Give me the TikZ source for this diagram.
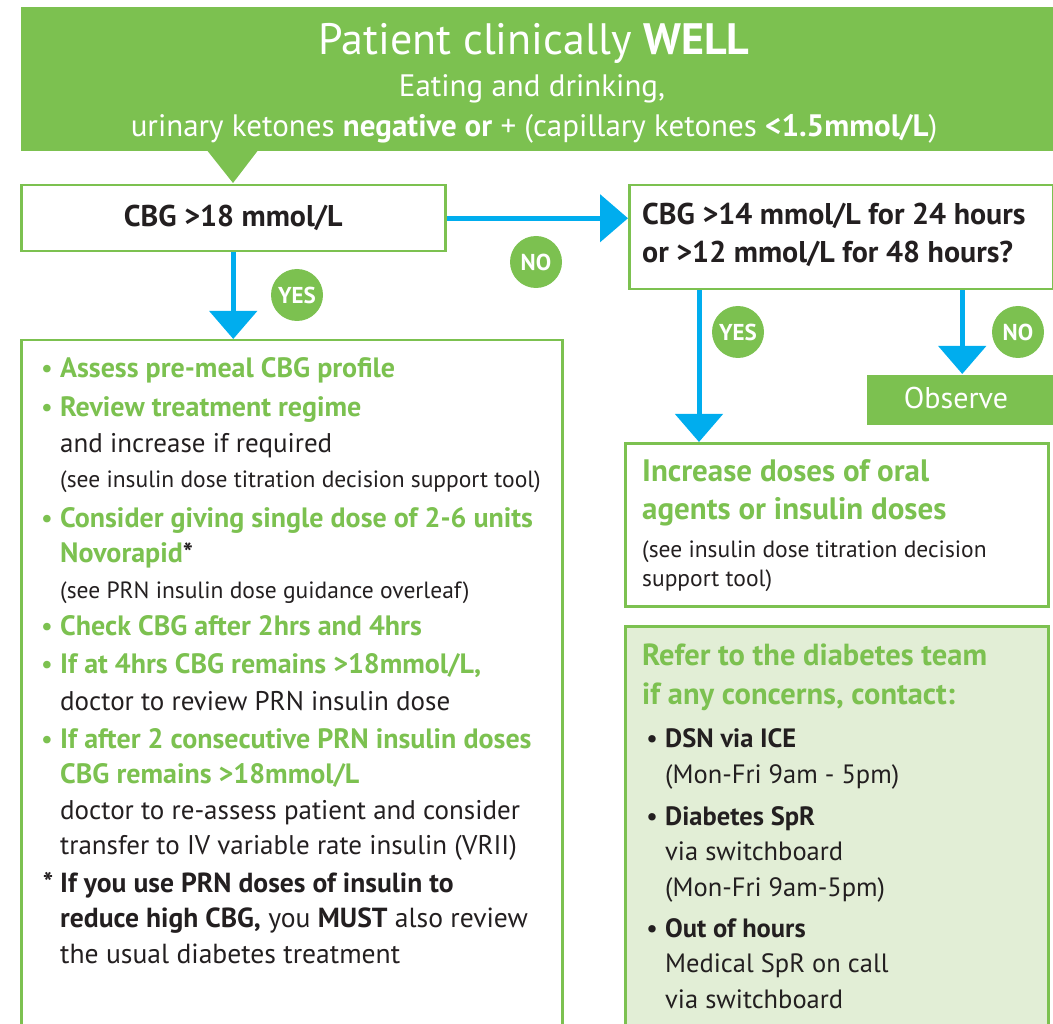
\documentclass[tikz,border=0pt]{standalone}
\usepackage{fontspec}
\setmainfont{PT Sans}
\usetikzlibrary{arrows.meta}

\definecolor{wellgreen}{RGB}{124,193,80}
\definecolor{palegreen}{RGB}{226,238,214}
\definecolor{flowblue}{RGB}{0,173,238}
\definecolor{inkgrey}{RGB}{35,31,32}

\newcommand{\fs}[1]{\fontsize{#1}{35.5}\selectfont}
\newcommand{\fsl}[2]{\fontsize{#1}{#2}\selectfont}
\newcommand{\gb}[1]{{\color{wellgreen}\bfseries\fs{28}#1}}
\newcommand{\sm}[1]{{\fs{23.5}#1}}
\newcommand{\gbullet}{\llap{\color{wellgreen}\textbullet\hspace{7pt}}}
\newcommand{\kbullet}{\llap{\textbullet\hspace{7pt}}}
\newcommand{\stack}[1]{\begin{tabular}[t]{@{}l@{}}#1\end{tabular}}

\begin{document}
\begin{tikzpicture}[x=1pt,y=-1pt,
    every node/.style={text=inkgrey},
    frame/.style={draw=wellgreen, line width=2.5pt, fill=white, anchor=north west, inner sep=0pt},
    flow/.style={flowblue, line width=5pt, -{Triangle[width=47pt,length=28pt]}},
    answer/.style={circle, fill=wellgreen, text=white, inner sep=0pt, minimum size=52pt, font=\bfseries\fontsize{23}{23}\selectfont},
    line/.style={anchor=base west, inner sep=0pt}]

    \clip (0,0) rectangle (1053,1024);

    % boxes
    \node[frame, fill=wellgreen, draw=none, minimum width=1040pt, minimum height=144pt] (banner) at (20,6) {};
    \fill[wellgreen] (206,149) -- (259,149) -- (233,183) -- cycle;
    \node[frame, minimum width=424pt, minimum height=66pt, font=\bfseries\fs{30}] (cbg18) at (20,184) {CBG >18 mmol/L};
    \node[frame, minimum width=424pt, minimum height=104pt] (cbg14) at (628,184) {};
    \node[frame, minimum width=541pt, minimum height=720pt] (plan) at (20,339) {};
    \node[frame, fill=wellgreen, draw=none, minimum width=190pt, minimum height=50pt] (observe) at (866,374) {};
    \node[frame, minimum width=423pt, minimum height=163pt] (raise) at (624,442) {};
    \node[frame, fill=palegreen, minimum width=423pt, minimum height=420pt] (refer) at (624,625) {};

    % connectors
    \draw[flow] (cbg18.south) -- (cbg18.south |- plan.north);
    \draw[flow] (cbg18.east) -- (cbg18.east -| cbg14.west);
    \draw[flow] ([xshift=71pt]cbg14.south west) -- ([xshift=71pt]cbg14.south west |- raise.north);
    \draw[flow] (cbg14.south -| observe.north) -- (observe.north);

    \node[answer] (yes18) at (297,295) {YES};
    \node[answer] (no18) at (536,262) {NO};
    \node[answer] (yes14) at (738,332) {YES};
    \node[answer] (no14) at (1018,332) {NO};

    % banner text
    \node[anchor=base, text=white, font=\fs{44}] (title) at (534,55) {Patient clinically \textbf{WELL}};
    \node[anchor=base, text=white, font=\fs{31}] (eating) at (532,97) {Eating and drinking,};
    \node[anchor=base, text=white, font=\fs{31}] (ketones) at (534,137) {urinary ketones \textbf{negative or} + (capillary ketones \textbf{<1.5mmol/L})};

    \node[line, font=\bfseries\fsl{30}{38}] (q14) at (642,225) {\stack{CBG >14 mmol/L for 24 hours\\or >12 mmol/L for 48 hours?}};
    \node[anchor=base, text=white, font=\fs{30}] (observetxt) at (956,409) {Observe};

    % left column
    \node[line, font=\fs{27}] (item1) at (60,378) {\stack{\gbullet\gb{Assess pre-meal CBG profile}}};
    \node[line, font=\fs{27}] (item2) at (60,417) {\stack{\gbullet\gb{Review treatment regime}\\and increase if required\\\sm{(see insulin dose titration decision support tool)}}};
    \node[line, font=\fs{27}] (item3) at (60,527) {\stack{\gbullet\gb{Consider giving single dose of 2-6 units}\\\gb{Novorapid}\textbf{*}\\\sm{(see PRN insulin dose guidance overleaf)}}};
    \node[line, font=\fs{27}] (item4) at (60,635) {\stack{\gbullet\gb{Check CBG after 2hrs and 4hrs}}};
    \node[line, font=\fsl{27}{37}] (item5) at (60,673) {\stack{\gbullet\gb{If at 4hrs CBG remains >18mmol/L,}\\doctor to review PRN insulin dose}};
    \node[line, font=\fs{27}] (item6) at (60,748) {\stack{\gbullet\gb{If after 2 consecutive PRN insulin doses}\\\gb{CBG remains >18mmol/L}\\doctor to re-assess patient and consider\\transfer to IV variable rate insulin (VRII)}};
    \node[line, font=\fs{27.6}] (item7) at (60,892) {\stack{\llap{\textbf{*}\hspace{7pt}}\textbf{If you use PRN doses of insulin to}\\\textbf{reduce high CBG,} you \textbf{MUST} also review\\the usual diabetes treatment}};

    % right column
    \node[line, text=wellgreen, font=\bfseries\fsl{31}{37}] (raisetxt) at (642,482) {\stack{Increase doses of oral\\agents or insulin doses}};
    \node[line, font=\fsl{23.5}{29}] (raisenote) at (642,557) {\stack{(see insulin dose titration decision\\support tool)}};
    \node[line, text=wellgreen, font=\bfseries\fsl{30.5}{39}] (refertxt) at (642,665) {\stack{Refer to the diabetes team\\if any concerns, contact:}};
    \node[line, font=\fsl{26.5}{36}] (dsn) at (665,747) {\stack{\kbullet\textbf{DSN via ICE}\\(Mon-Fri 9am - 5pm)}};
    \node[line, font=\fs{26.5}] (spr) at (665,825) {\stack{\kbullet\textbf{Diabetes SpR}\\via switchboard\\(Mon-Fri 9am-5pm)}};
    \node[line, font=\fs{26.5}] (ooh) at (665,937) {\stack{\kbullet\textbf{Out of hours}\\Medical SpR on call\\via switchboard}};

\end{tikzpicture}
\end{document}
